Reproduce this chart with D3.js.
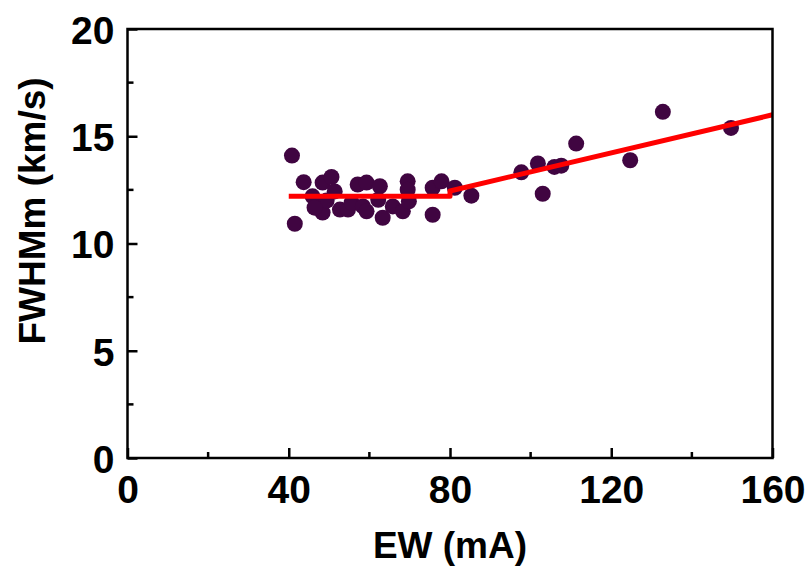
<!DOCTYPE html>
<html lang="en">
<head>
<meta charset="UTF-8">
<title>FWHMm vs EW</title>
<style>
  body { margin: 0; background: #fff; }
  svg text { font-family: "Liberation Sans", Arial, sans-serif; font-weight: bold; fill: #000; }
</style>
</head>
<body>
<svg id="chart" width="812" height="571"></svg>
<script src="https://cdn.jsdelivr.net/npm/d3@7/dist/d3.min.js"></script>
<script>
// measured points (EW in mA, FWHMm in km/s)
const ew = [40.8, 41.5, 43.7, 45.9, 47.2, 48.4, 48.4, 50.6, 51.4, 52.7,
            54.7, 55.6, 57.1, 58.4, 59.3, 59.3, 62.2, 62.6, 63.3, 65.8,
            68.3, 69.5, 69.5, 69.8, 75.7, 75.7, 77.9, 81.2, 85.3, 97.7,
            101.8, 103.0, 105.9, 107.6, 111.3, 124.7, 132.8, 149.7, 49.4, 46.4];
const fwhm = [14.10, 10.92, 12.86, 12.20, 11.73, 11.44, 12.84, 13.10, 12.43, 11.58,
              11.58, 11.90, 12.75, 11.73, 12.84, 11.50, 12.04, 12.67, 11.20, 11.73,
              11.50, 12.90, 12.51, 11.97, 11.34, 12.60, 12.90, 12.60, 12.23, 13.32,
              13.73, 12.32, 13.57, 13.63, 14.66, 13.88, 16.14, 15.39, 12.0, 11.67];

// broken-line fit
const fitX = [40, 80, 80, 160];
const fitY = [12.2, 12.2, 12.45, 16.0];

const xMajor = [0, 40, 80, 120, 160];
const xMinor = [20, 60, 100, 140];
const yMajor = [0, 5, 10, 15, 20];
const yMinor = [2.5, 7.5, 12.5, 17.5];

const svg = d3.select("#chart");
const m = {left: 127.5, right: 772.5, top: 29, bottom: 458};

const x = d3.scaleLinear().domain([0, 160]).range([m.left, m.right]);
const y = d3.scaleLinear().domain([0, 20]).range([m.bottom, m.top]);

// points
svg.append("g").selectAll("circle")
  .data(ew.map((d, i) => [d, fwhm[i]]))
  .join("circle")
  .attr("cx", d => x(d[0]))
  .attr("cy", d => y(d[1]))
  .attr("r", 8)
  .attr("fill", "#400541");

// fit line
svg.append("path")
  .datum(fitX.map((d, i) => [d, fitY[i]]))
  .attr("d", d3.line().x(d => x(d[0])).y(d => y(d[1])))
  .attr("fill", "none")
  .attr("stroke", "#ff0000")
  .attr("stroke-width", 5)
  .attr("stroke-linejoin", "round");

// frame
svg.append("rect")
  .attr("x", m.left).attr("y", m.top)
  .attr("width", m.right - m.left).attr("height", m.bottom - m.top)
  .attr("fill", "none").attr("stroke", "#000").attr("stroke-width", 2.5);

// x axis (ticks inside)
const xAxis = svg.append("g").attr("transform", `translate(0,${m.bottom})`);
xAxis.call(d3.axisBottom(x).tickValues(xMajor).tickSize(-10).tickPadding(17).tickSizeOuter(0))
  .call(g => g.select(".domain").remove());
xAxis.selectAll(".tick line").attr("stroke-width", 2.5);
xAxis.selectAll("text").style("font-size", "39px").attr("dy", "0.71em");
xAxis.append("g").selectAll("line").data(xMinor).join("line")
  .attr("x1", d => x(d)).attr("x2", d => x(d))
  .attr("y1", 0).attr("y2", -6)
  .attr("stroke", "#000").attr("stroke-width", 2.5);

// y axis (ticks inside)
const yAxis = svg.append("g").attr("transform", `translate(${m.left},0)`);
yAxis.call(d3.axisLeft(y).tickValues(yMajor).tickSize(-10).tickPadding(13).tickSizeOuter(0))
  .call(g => g.select(".domain").remove());
yAxis.selectAll(".tick line").attr("stroke-width", 2.5);
yAxis.selectAll("text").style("font-size", "39px").attr("dy", "0.37em");
yAxis.append("g").selectAll("line").data(yMinor).join("line")
  .attr("y1", d => y(d)).attr("y2", d => y(d))
  .attr("x1", 0).attr("x2", 6)
  .attr("stroke", "#000").attr("stroke-width", 2.5);

// titles
svg.append("text")
  .attr("x", (m.left + m.right) / 2).attr("y", 558)
  .attr("text-anchor", "middle")
  .style("font-size", "37px")
  .text("EW (mA)");

svg.append("text")
  .attr("transform", "translate(45,211) rotate(-90)")
  .attr("text-anchor", "middle")
  .style("font-size", "37px")
  .text("FWHMm (km/s)");
</script>
</body>
</html>
